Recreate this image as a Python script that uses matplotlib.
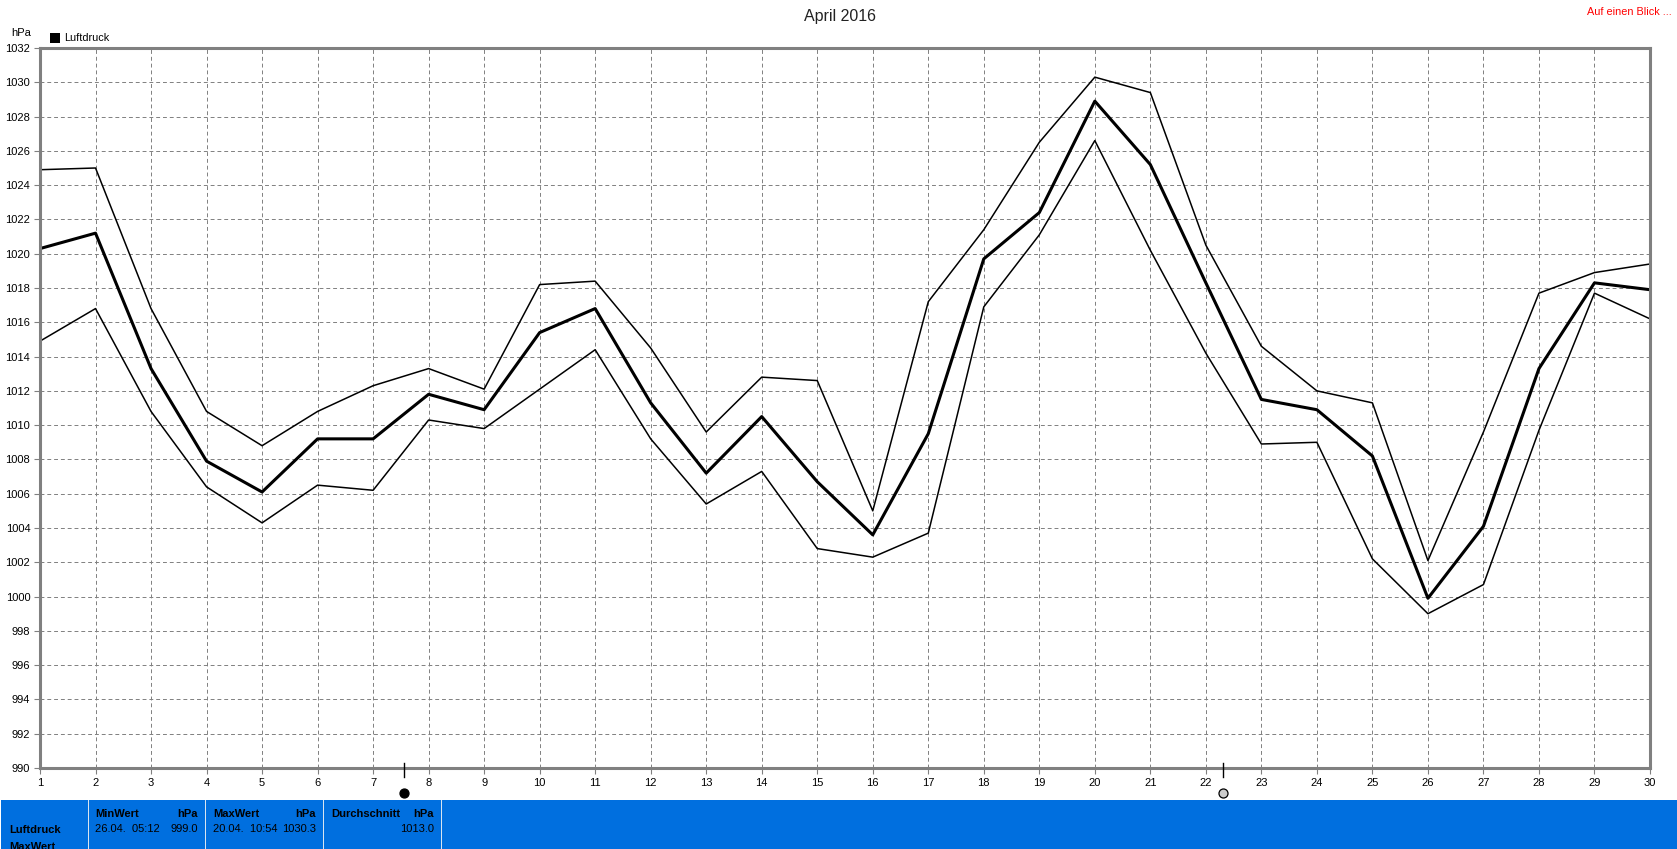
import matplotlib
matplotlib.use("Agg")
import matplotlib.pyplot as plt
from matplotlib.patches import Rectangle

plt.rcParams['font.family'] = ['Liberation Sans', 'DejaVu Sans']

days = list(range(1, 31))
luftdruck_max = [1024.9, 1025.0, 1016.8, 1010.8, 1008.8, 1010.8, 1012.3, 1013.3, 1012.1, 1018.2,
                 1018.4, 1014.5, 1009.6, 1012.8, 1012.6, 1005.0, 1017.2, 1021.4, 1026.5, 1030.3,
                 1029.4, 1020.5, 1014.6, 1012.0, 1011.3, 1002.1, 1009.6, 1017.7, 1018.9, 1019.4]
luftdruck_mean = [1020.3, 1021.2, 1013.3, 1007.9, 1006.1, 1009.2, 1009.2, 1011.8, 1010.9, 1015.4,
                  1016.8, 1011.3, 1007.2, 1010.5, 1006.7, 1003.6, 1009.5, 1019.7, 1022.4, 1028.9,
                  1025.2, 1018.3, 1011.5, 1010.9, 1008.2, 999.9, 1004.1, 1013.3, 1018.3, 1017.9]
luftdruck_min = [1014.9, 1016.8, 1010.8, 1006.4, 1004.3, 1006.5, 1006.2, 1010.3, 1009.8, 1012.1,
                 1014.4, 1009.2, 1005.4, 1007.3, 1002.8, 1002.3, 1003.7, 1016.9, 1021.1, 1026.6,
                 1020.2, 1014.2, 1008.9, 1009.0, 1002.2, 999.0, 1000.7, 1009.7, 1017.7, 1016.2]
y_ticks = list(range(990, 1033, 2))
moon_days = [7.56, 22.3]
moon_colors = ['black', '#cccccc']

W, H = 1677, 849
GRAY = '#808080'
BLUE = '#006fdf'


def fx(px):
    return px / W


def fy(px):
    return 1 - px / H


def label(x, y, s, **kw):
    kw.setdefault('fontsize', 8)
    kw.setdefault('va', 'center')
    fig.text(fx(x), fy(y), s, **kw)


fig = plt.figure(figsize=(W / 100, H / 100), dpi=100)
ax = fig.add_axes([fx(40), fy(768), (1650 - 40) / W, (768 - 48) / H])

ax.plot(days, luftdruck_max, color='black', lw=1.1)
ax.plot(days, luftdruck_min, color='black', lw=1.1)
ax.plot(days, luftdruck_mean, color='black', lw=2.2)

ax.set_xlim(1, 30)
ax.set_ylim(990, 1032)
ax.set_xticks(days)
ax.set_yticks(y_ticks)
ax.tick_params(length=4, width=0.8, color=GRAY, labelsize=8, pad=3)
ax.grid(True, color=GRAY, lw=0.7, ls=(0, (4, 3)))
ax.set_axisbelow(True)
for spine in ax.spines.values():
    spine.set_color(GRAY)
    spine.set_linewidth(2.2)

# Mondphasen unter der Achse
for d, c in zip(moon_days, moon_colors):
    ax.plot([d, d], [989.5, 990.3], color='black', lw=1, clip_on=False, zorder=5)
    ax.plot([d], [988.55], 'o', ms=6.5, mfc=c, mec='black', mew=0.9, clip_on=False)

label(840, 16, 'April 2016', fontsize=11.5, ha='center', color='#222222')
label(1672, 12, 'Auf einen Blick ...', color='red', ha='right', fontsize=7.8)
label(11, 33, 'hPa')
fig.add_artist(Rectangle((fx(50), fy(43)), 10 / W, 10 / H, color='black', lw=0, transform=fig.transFigure))
label(64, 38, 'Luftdruck', fontsize=7.8)

# Tabelle unten
fig.add_artist(Rectangle((fx(1), 0), (W - 1) / W, 49 / H, color=BLUE, lw=0, transform=fig.transFigure))
for sep in [88, 205, 323, 441]:
    fig.add_artist(Rectangle((fx(sep - 0.5), 0), 1.5 / W, 49 / H, color='#d8e4f0', lw=0, transform=fig.transFigure))

label(9, 830, 'Luftdruck', weight='bold')
label(9, 847, 'MaxWert', weight='bold')
label(95, 814, 'MinWert', weight='bold')
label(198, 814, 'hPa', weight='bold', ha='right')
label(95, 829, '26.04.  05:12')
label(198, 829, '999.0', ha='right')
label(213, 814, 'MaxWert', weight='bold')
label(316, 814, 'hPa', weight='bold', ha='right')
label(213, 829, '20.04.  10:54')
label(316, 829, '1030.3', ha='right')
label(331, 814, 'Durchschnitt', weight='bold')
label(434, 814, 'hPa', weight='bold', ha='right')
label(434, 829, '1013.0', ha='right')

fig.savefig('out.png', dpi=100)
